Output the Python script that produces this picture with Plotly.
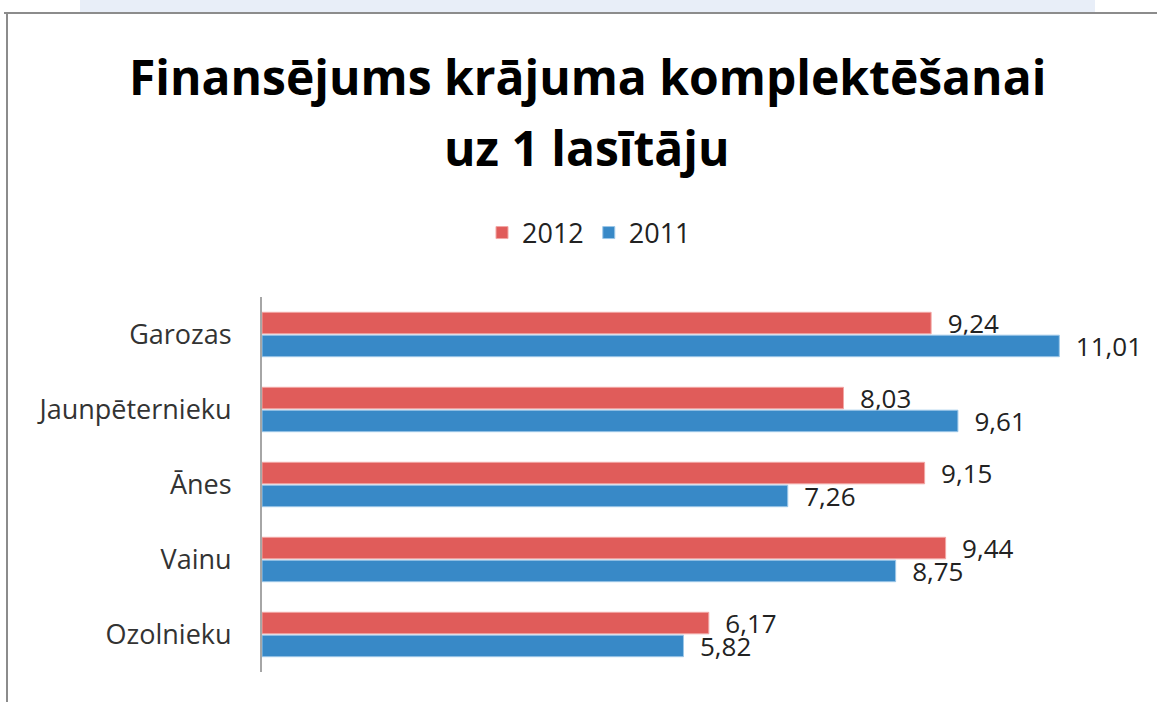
import plotly.graph_objects as go

categories = ["Garozas", "Jaunpēternieku", "Ānes", "Vainu", "Ozolnieku"]
values_2012 = [9.24, 8.03, 9.15, 9.44, 6.17]
values_2011 = [11.01, 9.61, 7.26, 8.75, 5.82]
series_names = ["2012", "2011"]
title_lines = ["Finansējums krājuma komplektēšanai", "uz 1 lasītāju"]

W, H = 1157, 702
ML, MR, MT, MB = 262, 26, 297, 30
PW = W - ML - MR
PH = H - MT - MB


def fmt(v):
    return "\u00a0\u00a0" + f"{v:.2f}".replace(".", ",")


def px_x(p):
    return (p - ML) / PW


def px_y(p):
    return (H - MB - p) / PH


label_font = dict(family="Open Sans", size=26, color="#222222")

fig = go.Figure()
fig.add_trace(go.Bar(
    name=series_names[0], y=categories, x=values_2012, orientation="h",
    marker=dict(color="#E05C5A", line=dict(color="#F2A7A5", width=1)),
    text=[fmt(v) for v in values_2012], textposition="outside",
    textfont=label_font, outsidetextfont=label_font, constraintext="none",
    cliponaxis=False,
))
fig.add_trace(go.Bar(
    name=series_names[1], y=categories, x=values_2011, orientation="h",
    marker=dict(color="#3889C7", line=dict(color="#9CC7E8", width=1)),
    text=[fmt(v) for v in values_2011], textposition="outside",
    textfont=label_font, outsidetextfont=label_font, constraintext="none",
    cliponaxis=False,
))

shapes = [
    dict(type="rect", xref="paper", yref="paper",
         x0=px_x(80), x1=px_x(1095), y0=px_y(12), y1=px_y(0),
         fillcolor="#E8EEF8", line=dict(width=0), layer="below"),
    dict(type="line", xref="paper", yref="paper",
         x0=px_x(4), x1=px_x(1157), y0=px_y(13), y1=px_y(13),
         line=dict(color="#8C8C8C", width=2)),
    dict(type="line", xref="paper", yref="paper",
         x0=px_x(7), x1=px_x(7), y0=px_y(13), y1=px_y(702),
         line=dict(color="#8C8C8C", width=2)),
]

annotations = [
    dict(text=title_lines[0], xref="paper", yref="paper", x=px_x(587), y=px_y(76),
         xanchor="center", yanchor="middle", showarrow=False,
         font=dict(family="Open Sans", size=48, color="#000000", weight="bold")),
    dict(text=title_lines[1], xref="paper", yref="paper", x=px_x(587), y=px_y(147),
         xanchor="center", yanchor="middle", showarrow=False,
         font=dict(family="Open Sans", size=48, color="#000000", weight="bold")),
]

fig.update_layout(
    width=W, height=H, autosize=False,
    margin=dict(l=ML, r=MR, t=MT, b=MB, pad=0),
    paper_bgcolor="white", plot_bgcolor="white",
    barmode="group", bargap=0.39, bargroupgap=0.06,
    legend=dict(orientation="h", x=px_x(589), xanchor="center", y=px_y(233), yanchor="middle",
                font=dict(family="Open Sans", size=27, color="#222222"),
                itemwidth=30, traceorder="normal"),
    xaxis=dict(range=[0, 12], visible=False, showgrid=False, zeroline=False),
    yaxis=dict(autorange="reversed", showline=True, linecolor="#A6A6A6", linewidth=2,
               ticks="", ticklen=0, tickfont=dict(family="Open Sans", size=27, color="#333333"),
               ticklabelstandoff=23, showgrid=False),
    shapes=shapes,
    annotations=annotations,
    showlegend=True,
)

fig.write_html("out.html", config={"displayModeBar": False},
               post_script="document.body.style.margin='0';")
